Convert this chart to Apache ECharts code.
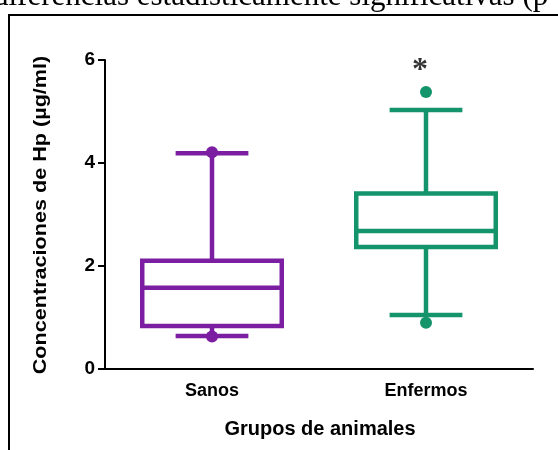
<!DOCTYPE html>
<html>
<head>
<meta charset="utf-8">
<script src="https://cdn.jsdelivr.net/npm/echarts@6/dist/echarts.min.js"></script>
<style>
  html, body { margin: 0; padding: 0; background: #fff; }
  #chart { width: 558px; height: 450px; }
</style>
</head>
<body>
<div id="chart"></div>
<script>
// Haptoglobin concentrations by animal group
const categories = ['Sanos', 'Enfermos'];
// [min whisker, Q1, median, Q3, max whisker]
const sanosBox = [0.64, 0.835, 1.58, 2.10, 4.19];
const enfermosBox = [1.05, 2.37, 2.68, 3.41, 5.03];
// individual points drawn as dots
const sanosPoints = [4.21, 0.63];
const enfermosPoints = [5.38, 0.90];
// significance marker over the diseased group
const significance = [{ group: 'Enfermos', value: 5.95, text: '*' }];
const yTicks = [0, 2, 4, 6];

const purple = '#7b1ea1';
const green = '#14946a';
const sans = "'Liberation Sans', Arial, sans-serif";
const serif = "'Liberation Serif', 'Times New Roman', serif";

const boxData = [
  { value: [0].concat(sanosBox), itemStyle: { color: purple } },
  { value: [1].concat(enfermosBox), itemStyle: { color: green } }
];

const dotData = []
  .concat(sanosPoints.map(v => ({ value: [0, v], itemStyle: { color: purple } })))
  .concat(enfermosPoints.map(v => ({ value: [1, v], itemStyle: { color: green } })));

function renderBox(params, api) {
  const x = api.value(0);
  const pMin = api.coord([x, api.value(1)]);
  const pQ1 = api.coord([x, api.value(2)]);
  const pMed = api.coord([x, api.value(3)]);
  const pQ3 = api.coord([x, api.value(4)]);
  const pMax = api.coord([x, api.value(5)]);
  const band = api.size([1, 0])[0];
  const cx = pMed[0];
  const half = band * 0.326;
  const cap = band * 0.17;
  const style = { stroke: api.visual('color'), lineWidth: 4.5, fill: null };
  const line = (x1, y1, x2, y2) => ({ type: 'line', shape: { x1, y1, x2, y2 }, style });
  return {
    type: 'group',
    children: [
      line(cx, pQ3[1], cx, pMax[1]),
      line(cx, pQ1[1], cx, pMin[1]),
      line(cx - cap, pMax[1], cx + cap, pMax[1]),
      line(cx - cap, pMin[1], cx + cap, pMin[1]),
      { type: 'rect', shape: { x: cx - half, y: pQ3[1], width: half * 2, height: pQ1[1] - pQ3[1] }, style },
      line(cx - half, pMed[1], cx + half, pMed[1])
    ]
  };
}

const chart = echarts.init(document.getElementById('chart'), null, { renderer: 'canvas' });
chart.setOption({
  animation: false,
  backgroundColor: '#fff',
  grid: { left: 105, right: 25, top: 60, bottom: 81, containLabel: false },
  xAxis: {
    type: 'category',
    data: categories,
    axisLine: { lineStyle: { color: '#000', width: 2 } },
    axisTick: { alignWithLabel: true, length: 7, lineStyle: { color: '#000', width: 2 } },
    axisLabel: { color: '#000', fontSize: 18, fontWeight: 'bold', fontFamily: sans, margin: 13 },
    splitLine: { show: false }
  },
  yAxis: {
    type: 'value',
    min: yTicks[0],
    max: yTicks[yTicks.length - 1],
    interval: 2,
    axisLine: { show: true, lineStyle: { color: '#000', width: 2 } },
    axisTick: { show: true, length: 7, lineStyle: { color: '#000', width: 2 } },
    axisLabel: { color: '#000', fontSize: 19, fontWeight: 'bold', fontFamily: sans, margin: 10 },
    splitLine: { show: false }
  },
  series: [
    {
      type: 'custom',
      renderItem: renderBox,
      encode: { x: 0, y: [1, 2, 3, 4, 5] },
      data: boxData,
      z: 2
    },
    {
      type: 'scatter',
      symbol: 'circle',
      symbolSize: 12,
      itemStyle: { opacity: 1 },
      data: dotData,
      z: 3
    },
    {
      type: 'scatter',
      symbolSize: 0,
      data: significance.map(s => ({ value: [s.group, s.value], text: s.text })),
      label: {
        show: true,
        position: 'inside',
        offset: [-6, 8],
        formatter: p => p.data.text,
        color: '#000',
        fontSize: 32,
        fontWeight: 'bold',
        fontFamily: serif
      },
      z: 4
    }
  ],
  graphic: [
    {
      type: 'rect',
      shape: { x: 9, y: 15, width: 600, height: 500 },
      style: { fill: null, stroke: '#000', lineWidth: 2 },
      z: -1
    },
    {
      type: 'text',
      x: -7,
      y: -3,
      style: {
        text: 'diferencias estadísticamente significativas (p',
        font: '31px ' + serif,
        fill: '#000',
        textVerticalAlign: 'middle'
      }
    },
    {
      type: 'text',
      x: 41,
      y: 215,
      rotation: Math.PI / 2,
      scaleX: 1.2,
      style: {
        text: 'Concentraciones de Hp (µg/ml)',
        font: 'bold 18px ' + sans,
        fill: '#000',
        textAlign: 'center',
        textVerticalAlign: 'middle'
      }
    },
    {
      type: 'text',
      x: 320,
      y: 429,
      style: {
        text: 'Grupos de animales',
        font: 'bold 20px ' + sans,
        fill: '#000',
        textAlign: 'center',
        textVerticalAlign: 'middle'
      }
    }
  ]
});
</script>
</body>
</html>
